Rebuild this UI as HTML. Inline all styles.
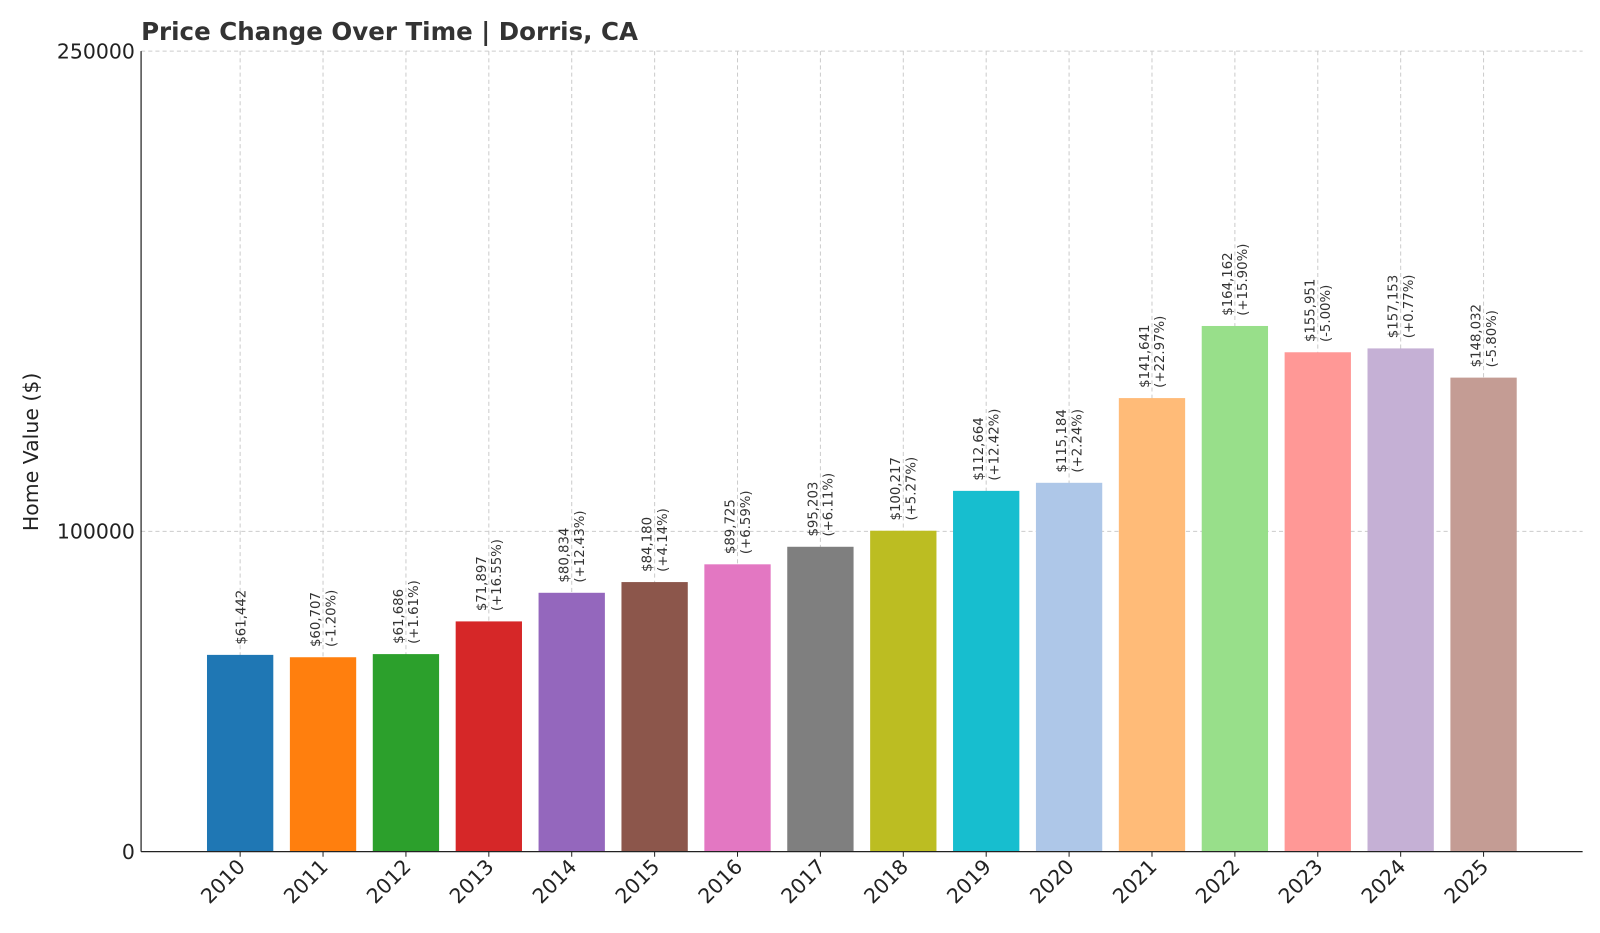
<!DOCTYPE html>
<html><head><meta charset="utf-8"><style>
body{margin:0;background:#fff;}
svg{display:block;font-family:"DejaVu Sans","Liberation Sans",sans-serif;}
</style></head><body>
<svg id="chart" width="1600" height="933" viewBox="0 0 1565 912.6" preserveAspectRatio="none" xmlns="http://www.w3.org/2000/svg">
<text x="138" y="39" font-size="24" font-weight="bold" fill="#333">Price Change Over Time | Dorris, CA</text>
<text transform="translate(37,442) rotate(-90)" text-anchor="middle" font-size="20" fill="#222">Home Value ($)</text>
<g id="grid"></g><g id="bars"></g><g id="labels"></g><g id="axes"></g>
</svg>
<script>
const years=["2010","2011","2012","2013","2014","2015","2016","2017","2018","2019","2020","2021","2022","2023","2024","2025"];
const values=[61442,60707,61686,71897,80834,84180,89725,95203,100217,112664,115184,141641,164162,155951,157153,148032];
const changes=["","-1.20%","+1.61%","+16.55%","+12.43%","+4.14%","+6.59%","+6.11%","+5.27%","+12.42%","+2.24%","+22.97%","+15.90%","-5.00%","+0.77%","-5.80%"];
const yTicks=[0,100000,250000];
const colors=["#1f77b4","#ff7f0e","#2ca02c","#d62728","#9467bd","#8c564b","#e377c2","#7f7f7f","#bcbd22","#17becf","#aec7e8","#ffbb78","#98df8a","#ff9896","#c5b0d5","#c49c94"];
const NS="http://www.w3.org/2000/svg";
const X0=138,X1=1548,Y0=833,Y1=50,YMAX=250000;
const step=(X1-X0)/(years.length-1+2*1.195);
const xs=i=>X0+step*1.195+i*step;
const ys=v=>Y0-(v/YMAX)*(Y0-Y1);
const bw=step*0.8;
function mk(tag,attrs,parent,text){const e=document.createElementNS(NS,tag);for(const k in attrs)e.setAttribute(k,attrs[k]);if(text!==undefined)e.textContent=text;parent.appendChild(e);return e;}
const grid=document.getElementById('grid'),bars=document.getElementById('bars'),labels=document.getElementById('labels'),axes=document.getElementById('axes');
yTicks.forEach(t=>{
  const y=ys(t);
  if(t>0){const l=mk('line',{x1:X0,x2:X1,y1:y,y2:y,stroke:'#ccc','stroke-dasharray':'4,3'},grid);
  
  }
  const tx=mk('text',{x:X0-6,y:y+7,'text-anchor':'end','font-size':20,fill:'#222'},axes,String(t));
  
  
});
years.forEach((yr,i)=>{
  const cx=xs(i);
  const g=mk('line',{x1:cx,x2:cx,y1:Y1,y2:Y0,stroke:'#ccc','stroke-dasharray':'4,3'},grid);
  
  
  const r=mk('rect',{x:cx-bw/2,y:ys(values[i]),width:bw,height:Y0-ys(values[i]),fill:colors[i]},bars);
  
  
  const top=ys(values[i])-10;
  const price='$'+values[i].toLocaleString('en-US');
  const lg=mk('g',{transform:`translate(${cx},${top}) rotate(-90)`},labels);
  
  
  if(changes[i]){
    mk('text',{x:0,y:-3,'font-size':13,fill:'#333'},lg,price);
    mk('text',{x:0,y:12,'font-size':13,fill:'#333'},lg,'('+changes[i]+')');
  } else {
    mk('text',{x:0,y:5,'font-size':13,fill:'#333'},lg,price);
  }
  mk('line',{x1:cx,x2:cx,y1:Y0,y2:Y0+5,stroke:'#222'},axes);
  const xt=mk('text',{transform:`translate(${cx+6},${Y0+16}) rotate(-45)`,'text-anchor':'end','font-size':20,fill:'#222'},axes,yr);
  
  
});
const ya=mk('line',{x1:X0,x2:X0,y1:Y1,y2:Y0,stroke:'#222','stroke-width':1.2},axes);


const xa=mk('line',{x1:X0,x2:X1,y1:Y0,y2:Y0,stroke:'#222','stroke-width':1.2},axes);


</script>
</body></html>
